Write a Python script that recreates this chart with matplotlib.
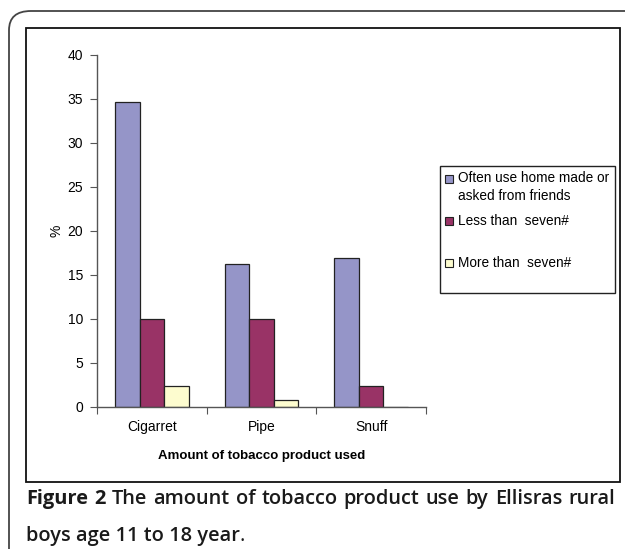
import matplotlib
matplotlib.use("Agg")
import matplotlib.pyplot as plt
import numpy as np
from matplotlib.patches import Rectangle, FancyBboxPatch

categories = ["Cigarret", "Pipe", "Snuff"]
series_names = ["Often use home made or\nasked from friends", "Less than  seven#", "More than  seven#"]
often_home = [34.6, 16.2, 16.9]
less_seven = [10.0, 10.0, 2.34]
more_seven = [2.34, 0.75, 0.0]
colors = ["#9595C8", "#993366", "#FDFCCF"]
yticks = [0, 5, 10, 15, 20, 25, 30, 35, 40]

W, H = 625, 549
fig = plt.figure(figsize=(W / 100, H / 100), dpi=100)
fig.patch.set_facecolor("white")

def fx(px):
    return px / W

def fy(py):
    return 1 - py / H

# outer rounded frame (extends past right/bottom edges)
outer = FancyBboxPatch((fx(9), fy(600)), fx(700) - fx(9), fy(11) - fy(600),
                       boxstyle="round,pad=0,rounding_size=0.035",
                       transform=fig.transFigure, fill=False,
                       edgecolor="#444444", linewidth=1.3, zorder=0)
fig.patches.append(outer)
# inner chart frame
inner = Rectangle((fx(26), fy(481.5)), fx(620) - fx(26), fy(28) - fy(481.5),
                  transform=fig.transFigure, fill=False,
                  edgecolor="#111111", linewidth=1.3, zorder=0)
fig.patches.append(inner)

ax = fig.add_axes([fx(97), fy(406.5), fx(426) - fx(97), fy(54.6) - fy(406.5)])
x = np.arange(len(categories))
bw = 0.223
series = [often_home, less_seven, more_seven]
for i, (vals, c, name) in enumerate(zip(series, colors, series_names)):
    ax.bar(x + (i - 1) * bw, vals, width=bw, color=c, edgecolor="#222222",
           linewidth=0.9, label=name, zorder=2)

ax.set_xlim(-0.5, 2.5)
ax.set_ylim(0, 40)
ax.set_yticks(yticks)
ax.set_yticklabels([str(t) for t in yticks])
for s in ["top", "right"]:
    ax.spines[s].set_visible(False)
for s in ["left", "bottom"]:
    ax.spines[s].set_color("#555555")
    ax.spines[s].set_linewidth(1.0)
ax.set_xticks([-0.5, 0.5, 1.5, 2.5])
ax.set_xticklabels([])
ax.set_xticks(x, minor=True)
ax.set_xticklabels(categories, minor=True, fontsize=10, family="Liberation Sans")
ax.tick_params(axis="x", which="major", length=5, color="#555555", direction="out")
ax.tick_params(axis="x", which="minor", length=0, pad=10)
ax.tick_params(axis="y", length=5, color="#555555", labelsize=10, pad=5)
for lab in ax.get_yticklabels():
    lab.set_family("Liberation Sans")
ax.set_xlabel("Amount of tobacco product used", fontsize=9.5, fontweight="bold",
              family="Liberation Sans", labelpad=11)
ax.set_ylabel("%", fontsize=10, family="Liberation Sans", labelpad=3)

# legend box drawn in figure pixels
fig.patches.append(Rectangle((fx(439.6), fy(292.7)), fx(615) - fx(439.6), fy(165.6) - fy(292.7),
                             transform=fig.transFigure, fill=False, edgecolor="#222222",
                             linewidth=1.0, zorder=3))
leg_y = [179, 221, 263]
for name, c, yy in zip(series_names, colors, leg_y):
    fig.patches.append(Rectangle((fx(445), fy(yy + 4)), fx(453) - fx(445), fy(yy - 4) - fy(yy + 4),
                                 transform=fig.transFigure, facecolor=c, edgecolor="#222222",
                                 linewidth=0.8, zorder=4))
    if "\n" in name:
        fig.text(fx(458), fy(yy - 8), name, fontsize=9.8, family="Liberation Sans",
                 ha="left", va="top", linespacing=1.32)
    else:
        fig.text(fx(458), fy(yy), name, fontsize=9.8, family="Liberation Sans",
                 ha="left", va="center")

# caption, justified line 1, font size fitted to width
fig.canvas.draw()
r = fig.canvas.get_renderer()
cap_font = "Open Sans"
left, right = 26, 615
line1_bold = "Figure 2"
line1_rest = "The amount of tobacco product use by Ellisras rural"
probe = fig.text(0, 0, line1_bold + " " + line1_rest, fontsize=10, fontweight="semibold",
                 family=cap_font)
pw = probe.get_window_extent(r).width
probe.remove()
fs = 10 * (right - left) / pw * 0.985

words = [(w, "bold") for w in line1_bold.split()] + [(w, "semibold") for w in line1_rest.split()]
texts = []
for w, wt in words:
    t = fig.text(0, fy(504), w, fontsize=fs, fontweight=wt, family=cap_font,
                 ha="left", va="baseline", color="#1a1a1a")
    texts.append(t)
widths = [t.get_window_extent(r).width for t in texts]
gap = (right - left - sum(widths)) / (len(words) - 1)
xpos = left
for t, wdt in zip(texts, widths):
    t.set_x(fx(xpos))
    xpos += wdt + gap
t2 = fig.text(fx(26), fy(541), "boys age 11 to 18 year", fontsize=fs, fontweight="semibold",
              family=cap_font, ha="left", va="baseline", color="#1a1a1a")
w2 = t2.get_window_extent(r).width
fig.text(fx(26) + w2 / W, fy(541), ".", fontsize=fs, family=cap_font, ha="left",
         va="baseline", color="#1a1a1a")

fig.savefig("out.png", dpi=100)
